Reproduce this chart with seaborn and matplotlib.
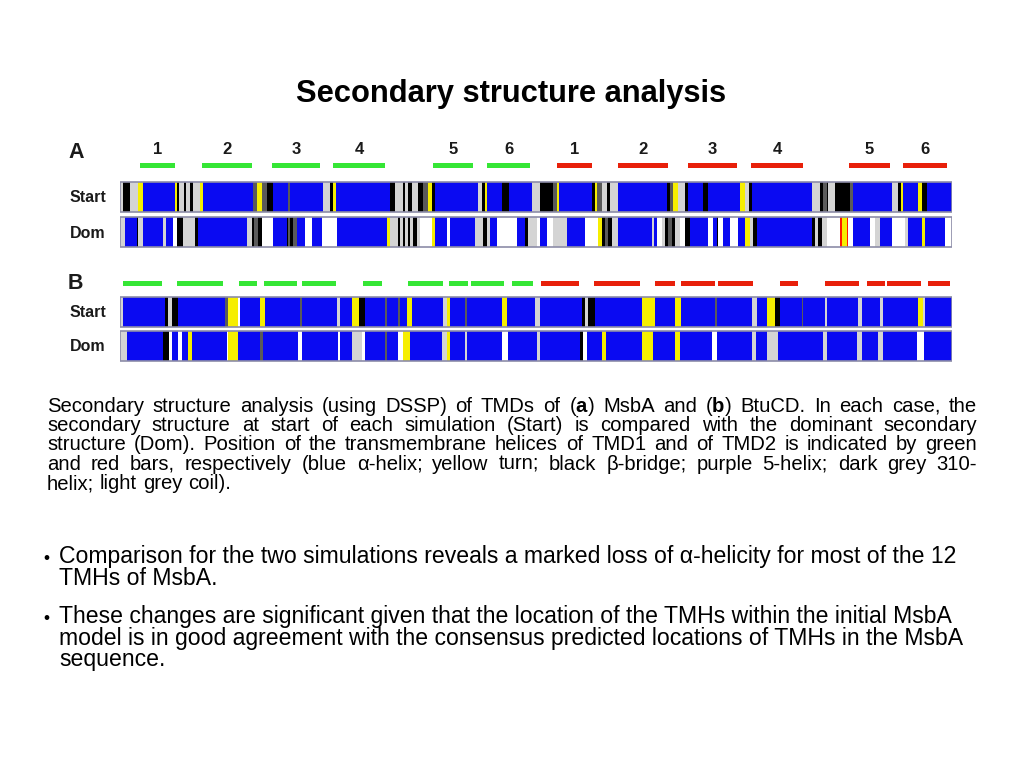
import matplotlib
matplotlib.use("Agg")
import matplotlib.pyplot as plt
import seaborn as sns
import pandas as pd

# === Secondary structure tracks: (start residue, DSSP code) ===
# H helix, T turn, B bridge, G 3-10, C coil, W none, R 5-helix
a_start = [(0, 'C'), (3, 'B'), (10, 'C'), (18, 'T'), (23, 'H'), (55, 'T'), (57, 'B'), (59, 'C'),
           (64, 'B'), (66, 'C'), (70, 'B'), (73, 'C'), (80, 'T'), (83, 'H'), (133, 'G'), (137, 'T'),
           (142, 'G'), (147, 'B'), (153, 'H'), (168, 'G'), (170, 'H'), (203, 'C'), (210, 'B'),
           (213, 'T'), (216, 'H'), (270, 'B'), (275, 'C'), (283, 'B'), (285, 'C'), (288, 'B'),
           (292, 'C'), (298, 'B'), (303, 'G'), (308, 'T'), (312, 'B'), (315, 'H'), (358, 'C'),
           (362, 'B'), (365, 'T'), (367, 'H'), (382, 'B'), (389, 'H'), (412, 'C'), (420, 'B'),
           (433, 'G'), (437, 'T'), (439, 'H'), (472, 'B'), (475, 'T'), (477, 'G'), (482, 'C'),
           (487, 'B'), (490, 'C'), (498, 'H'), (547, 'B'), (550, 'G'), (553, 'T'), (558, 'C'),
           (565, 'B'), (568, 'H'), (583, 'B'), (588, 'H'), (620, 'T'), (625, 'C'), (629, 'B'),
           (632, 'H'), (692, 'C'), (700, 'B'), (703, 'G'), (707, 'B'), (708, 'C'), (715, 'B'),
           (730, 'G'), (733, 'H'), (772, 'C'), (778, 'B'), (781, 'T'), (783, 'H'), (798, 'T'),
           (802, 'B'), (807, 'H')]
a_dom = [(0, 'C'), (5, 'H'), (17, 'B'), (18, 'C'), (23, 'H'), (43, 'C'), (46, 'H'), (53, 'W'),
         (57, 'B'), (63, 'C'), (75, 'B'), (78, 'H'), (127, 'C'), (132, 'B'), (134, 'G'), (138, 'B'),
         (142, 'W'), (153, 'H'), (167, 'B'), (168, 'G'), (170, 'B'), (173, 'G'), (177, 'H'),
         (185, 'W'), (192, 'H'), (202, 'W'), (217, 'H'), (267, 'T'), (270, 'C'), (278, 'B'),
         (280, 'C'), (283, 'B'), (285, 'C'), (288, 'B'), (290, 'C'), (293, 'B'), (297, 'C'),
         (300, 'W'), (312, 'T'), (315, 'H'), (327, 'W'), (330, 'H'), (355, 'C'), (363, 'B'),
         (367, 'C'), (370, 'H'), (377, 'W'), (397, 'H'), (405, 'B'), (408, 'C'), (417, 'W'),
         (420, 'H'), (427, 'W'), (433, 'C'), (447, 'H'), (465, 'W'), (478, 'T'), (482, 'B'),
         (485, 'G'), (488, 'B'), (492, 'C'), (498, 'H'), (532, 'C'), (534, 'H'), (537, 'W'),
         (542, 'C'), (545, 'B'), (548, 'G'), (552, 'B'), (555, 'C'), (560, 'W'), (565, 'B'),
         (570, 'H'), (588, 'W'), (593, 'H'), (597, 'B'), (598, 'W'), (603, 'H'), (610, 'W'),
         (618, 'H'), (625, 'T'), (630, 'C'), (633, 'B'), (637, 'H'), (692, 'B'), (695, 'C'),
         (698, 'B'), (702, 'C'), (707, 'W'), (720, 'R'), (722, 'T'), (727, 'R'), (728, 'W'),
         (733, 'H'), (750, 'W'), (755, 'C'), (760, 'H'), (772, 'W'), (785, 'C'), (788, 'H'),
         (802, 'T'), (805, 'H'), (825, 'W')]
b_start = [(0, 'C'), (3, 'H'), (45, 'B'), (48, 'C'), (52, 'B'), (58, 'H'), (105, 'G'), (108, 'T'),
           (118, 'W'), (120, 'H'), (140, 'T'), (145, 'H'), (180, 'G'), (182, 'H'), (217, 'C'),
           (220, 'H'), (232, 'T'), (239, 'B'), (245, 'H'), (265, 'G'), (267, 'H'), (278, 'G'),
           (280, 'H'), (287, 'T'), (292, 'H'), (323, 'C'), (327, 'T'), (330, 'H'), (345, 'G'),
           (347, 'H'), (382, 'T'), (387, 'H'), (415, 'C'), (420, 'H'), (462, 'B'), (465, 'C'),
           (468, 'B'), (475, 'H'), (522, 'T'), (535, 'H'), (555, 'T'), (561, 'H'), (595, 'G'),
           (597, 'H'), (632, 'C'), (637, 'H'), (647, 'T'), (655, 'B'), (660, 'H'), (682, 'G'),
           (683, 'H'), (705, 'C'), (707, 'H'), (738, 'C'), (742, 'H'), (760, 'C'), (763, 'H'),
           (798, 'T'), (803, 'C'), (805, 'H')]
b_dom = [(0, 'C'), (7, 'H'), (43, 'B'), (49, 'W'), (52, 'H'), (58, 'W'), (62, 'H'), (68, 'T'),
         (72, 'H'), (107, 'W'), (108, 'T'), (118, 'H'), (140, 'G'), (143, 'H'), (178, 'W'),
         (182, 'H'), (218, 'W'), (220, 'H'), (232, 'C'), (242, 'W'), (245, 'H'), (265, 'G'),
         (267, 'H'), (278, 'W'), (283, 'T'), (290, 'H'), (322, 'C'), (327, 'T'), (330, 'H'),
         (345, 'C'), (347, 'H'), (382, 'W'), (388, 'H'), (417, 'C'), (420, 'H'), (460, 'B'),
         (463, 'W'), (467, 'H'), (482, 'T'), (486, 'H'), (522, 'T'), (533, 'H'), (555, 'T'),
         (560, 'H'), (592, 'W'), (597, 'H'), (632, 'C'), (636, 'H'), (647, 'C'), (658, 'H'),
         (703, 'C'), (707, 'H'), (737, 'C'), (742, 'H'), (758, 'C'), (763, 'H'), (797, 'W'),
         (804, 'H')]
seq_len = 832

# === Transmembrane helices (start, end) ===
a_tmd1 = [(20, 55), (82, 132), (152, 200), (213, 265), (313, 353), (367, 410)]
a_tmd2 = [(437, 472), (498, 548), (568, 617), (631, 683), (729, 770), (783, 827)]
a_labels = ['1', '2', '3', '4', '5', '6']
b_tmd1 = [(3, 42), (57, 103), (119, 137), (144, 177), (182, 216), (243, 262), (288, 323),
          (329, 348), (351, 384), (392, 413)]
b_tmd2 = [(421, 459), (474, 520), (535, 555), (561, 595), (598, 633), (660, 678), (705, 739),
          (747, 765), (767, 801), (808, 830)]

ss_colors = {'H': '#0a0af2', 'T': '#f6ee00', 'B': '#000000', 'G': '#5a5a5a',
             'C': '#d4d4d4', 'W': '#ffffff', 'R': '#ff1a00'}
tmd_colors = {'TMD1': '#35e635', 'TMD2': '#e8200a'}

caption = [
    "Secondary structure analysis (using DSSP) of TMDs of ($\\mathbf{a}$) MsbA and ($\\mathbf{b}$) BtuCD. In each case, the",
    "secondary structure at start of each simulation (Start) is compared with the dominant secondary",
    "structure (Dom). Position of the transmembrane helices of TMD1 and of TMD2 is indicated by green",
    "and red bars, respectively (blue α-helix; yellow turn; black β-bridge; purple 5-helix; dark grey 310-",
    "helix; light grey coil).",
]
bullets = [
    ["Comparison for the two simulations reveals a marked loss of α-helicity for most of the 12",
     "TMHs of MsbA."],
    ["These changes are significant given that the location of the TMHs within the initial MsbA",
     "model is in good agreement with the consensus predicted locations of TMHs in the MsbA",
     "sequence."],
]


def track_frame(track):
    df = pd.DataFrame(track, columns=["start", "code"])
    df["end"] = list(df["start"].iloc[1:]) + [seq_len]
    return df


def tmd_frame(tmd1, tmd2):
    rows = [(s, e, "TMD1") for s, e in tmd1] + [(s, e, "TMD2") for s, e in tmd2]
    return pd.DataFrame(rows, columns=["start", "end", "tmd"])


# === Plot Settings ===
sns.set_theme(style="white")
plt.rcParams['font.family'] = ['Liberation Sans', 'DejaVu Sans']
plt.rcParams['mathtext.fontset'] = 'custom'
plt.rcParams['mathtext.rm'] = 'Liberation Sans'
plt.rcParams['mathtext.bf'] = 'Liberation Sans:bold'

W, H = 1023, 767
fig = plt.figure(figsize=(W / 100, H / 100), dpi=100)
fig.patch.set_facecolor("white")

# strip axes: x = residue, y = pixel rows of the slide
ax = fig.add_axes([120 / W, 1 - 370 / H, 832 / W, 235 / H])
ax.set_xlim(0, seq_len)
ax.set_ylim(370, 135)
ax.axis("off")


def fy(y):
    return 1 - y / H


panels = [
    # letter, letter y, tmd y, start y, dom y, data
    ("A", 153, 165.5, 196.5, 232, a_start, a_dom, a_tmd1, a_tmd2, True),
    ("B", 284, 283, 311.5, 345.5, b_start, b_dom, b_tmd1, b_tmd2, False),
]

for letter, ly, ty, sy, dy, st, dm, t1, t2, numbered in panels:
    fig.text(68 / W, fy(ly), letter, fontsize=15.5, fontweight="bold", va="center",
             color="#1a1a1a")
    for name, yc, track in [("Start", sy, st), ("Dom", dy, dm)]:
        df = track_frame(track)
        ax.barh(y=yc, width=df["end"] - df["start"], left=df["start"], height=30,
                color=df["code"].map(ss_colors), linewidth=0)
        ax.add_patch(plt.Rectangle((0, yc - 15), seq_len, 30, fill=False,
                                   edgecolor="#8c8ca8", linewidth=1.2))
        fig.text(70 / W, fy(yc + 1), name, fontsize=11.5, fontweight="bold",
                 va="center", color="#1a1a1a")
    tdf = tmd_frame(t1, t2)
    ax.barh(y=ty, width=tdf["end"] - tdf["start"], left=tdf["start"], height=5,
            color=tdf["tmd"].map(tmd_colors), linewidth=0)
    if numbered:
        for tmd in (t1, t2):
            for (s, e), lab in zip(tmd, a_labels):
                ax.text((s + e) / 2, 150, lab, ha="center", va="center",
                        fontsize=12, fontweight="bold", color="#1a1a1a")

# === Title ===
fig.text(511 / W, fy(102), "Secondary structure analysis", ha="center", va="baseline",
         fontsize=22.2, fontweight="bold", color="black")

# === Justified caption ===
renderer = fig.canvas.get_renderer()
cap_fs = 14.6
x0, x1 = 47, 977
baselines = [412, 431, 450, 470, 489]
for i, (line, yb) in enumerate(zip(caption, baselines)):
    words = line.split(" ")
    arts = [fig.text(0, fy(yb), w, fontsize=cap_fs, va="baseline", ha="left", color="black")
            for w in words]
    widths = [a.get_window_extent(renderer).width for a in arts]
    if i == len(caption) - 1:
        gap = cap_fs * 0.278 * 100 / 72
    else:
        gap = (x1 - x0 - sum(widths)) / (len(words) - 1)
    x = x0
    for a, w in zip(arts, widths):
        a.set_x(x / W)
        x += w + gap

# === Bullets ===
bullet_baselines = [[563, 585], [623, 645, 666]]
for lines, ys in zip(bullets, bullet_baselines):
    fig.text(43 / W, fy(ys[0]), "•", fontsize=12.5, va="baseline", color="black")
    for line, yb in zip(lines, ys):
        fig.text(59 / W, fy(yb), line, fontsize=16.6, va="baseline", color="black")

plt.savefig("out.png", dpi=100)
plt.close()
